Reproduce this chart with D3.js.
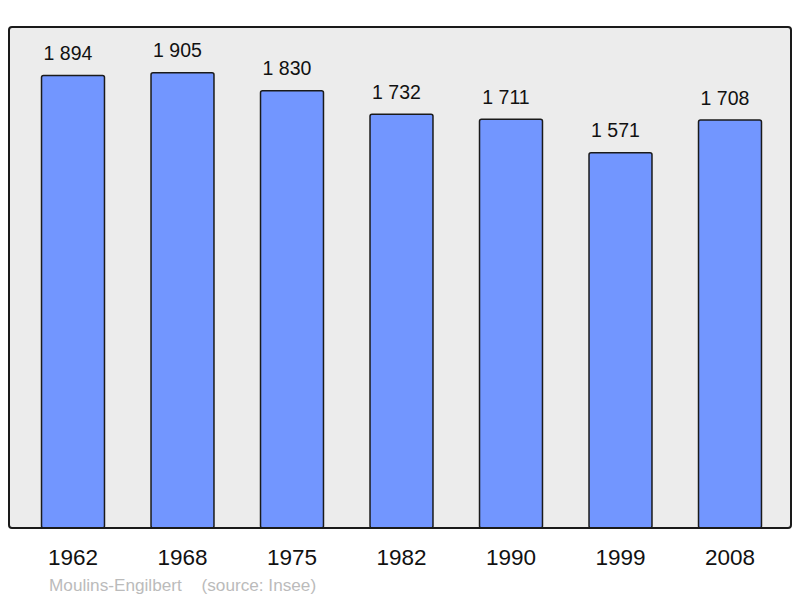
<!DOCTYPE html>
<html><head><meta charset="utf-8">
<script src="https://cdn.jsdelivr.net/npm/d3@7"></script>
<style>body{margin:0;background:#fff}svg{display:block}text{font-family:"Liberation Sans",Arial,sans-serif}</style>
</head><body>
<script>
const years = ["1962","1968","1975","1982","1990","1999","2008"];
const population = [1894, 1905, 1830, 1732, 1711, 1571, 1708];
const valueLabels = ["1 894","1 905","1 830","1 732","1 711","1 571","1 708"];
const commune = "Moulins-Engilbert";
const source = "(source: Insee)";

const W = 800, H = 598;
const svg = d3.select("body").append("svg").attr("width", W).attr("height", H);

const panel = {x0: 9, y0: 27, x1: 791, y1: 528};
svg.append("rect").attr("x", panel.x0).attr("y", panel.y0)
  .attr("width", panel.x1 - panel.x0).attr("height", panel.y1 - panel.y0)
  .attr("rx", 3).attr("fill", "#ececec");

const x = d3.scaleBand().domain(years).range([18.25, 784.75]).paddingInner(0.425).paddingOuter(0.2125);
const y = d3.scaleLinear().domain([0, 2096]).range([529, 27]);

const g = svg.append("g");
g.selectAll("rect.bar").data(years).join("rect").attr("class", "bar")
  .attr("x", d => x(d)).attr("width", x.bandwidth())
  .attr("y", (d, i) => y(population[i]))
  .attr("height", (d, i) => panel.y1 - y(population[i]))
  .attr("rx", 2)
  .attr("fill", "#7296ff").attr("stroke", "#1a1a1a").attr("stroke-width", 1.5);

g.selectAll("text.val").data(years).join("text").attr("class", "val")
  .attr("x", d => x(d) + x.bandwidth() / 2 - 5)
  .attr("y", (d, i) => y(population[i]) - 15.3)
  .attr("text-anchor", "middle").attr("font-size", 19.5).attr("fill", "#111")
  .text((d, i) => valueLabels[i]);

// panel border on top
svg.append("rect").attr("x", panel.x0).attr("y", panel.y0)
  .attr("width", panel.x1 - panel.x0).attr("height", panel.y1 - panel.y0)
  .attr("rx", 3).attr("fill", "none").attr("stroke", "#1a1a1a").attr("stroke-width", 2);

const xAxis = d3.axisBottom(x).tickSize(0).tickPadding(0);
const ax = svg.append("g").attr("transform", `translate(0,${panel.y1})`).call(xAxis);
ax.select(".domain").remove();
ax.selectAll("text").attr("font-size", 22.5).attr("fill", "#111")
  .attr("dy", null).attr("y", 36.5).style("font-family", '"Liberation Sans",Arial,sans-serif');

svg.append("text").attr("x", 49).attr("y", 590.5).attr("font-size", 17.2).attr("fill", "#bbbbbb").text(commune);
svg.append("text").attr("x", 201.5).attr("y", 590.5).attr("font-size", 17.2).attr("fill", "#bbbbbb").text(source);
</script>
</body></html>
